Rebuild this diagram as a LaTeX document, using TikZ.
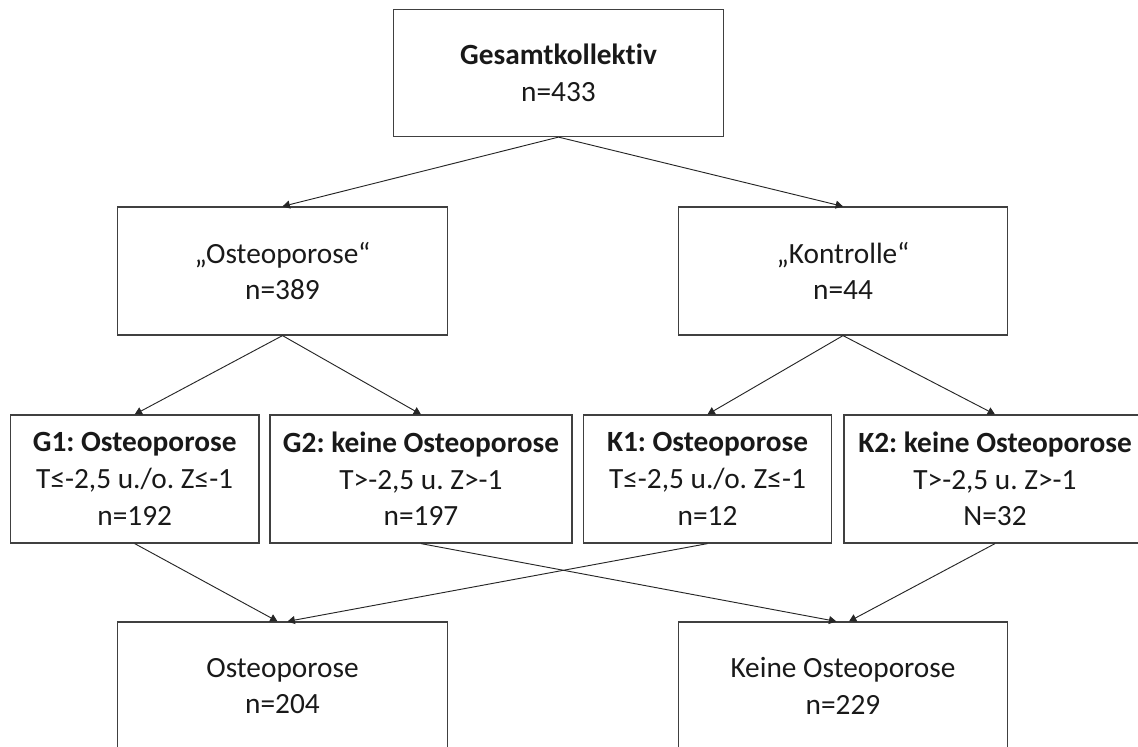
\documentclass[tikz,border=0pt]{standalone}
\usepackage{fontspec}
\setmainfont{Carlito}[Ligatures=NoCommon]
\usetikzlibrary{arrows.meta}

\tikzset{
    box/.style={draw=black!75, line width=0.9pt, rectangle, align=center, inner sep=0pt,
        minimum height=96pt, font=\fontsize{22}{27.5}\selectfont, text=black!90},
    bigbox/.style={box, minimum width=247pt},
    groupbox/.style={box, minimum width=186.5pt},
    widebox/.style={box, minimum width=226.5pt},
    link/.style={-{Triangle[width=6pt,length=5.5pt]}, draw=black!85, line width=0.7pt}
}

\begin{document}
\frenchspacing
\begin{tikzpicture}[x=0.75pt,y=-0.75pt]
        \clip (0,0) rectangle (1138,746);
        
        % Gesamtkollektiv
        \node[bigbox, minimum height=95.25pt] (total) at (558.5,73) {\textbf{Gesamtkollektiv}\\n=433};
        
        % Aufteilung
        \node[bigbox] (osteo) at (282.5,271) {„Osteoporose“\\n=389};
        \node[bigbox] (kontr) at (843,271) {„Kontrolle“\\n=44};
        
        % Gruppen
        \node[groupbox] (g1) at (134.7,479) {\textbf{G1: Osteoporose}\\T≤-2,5 u./o. Z≤-1\\n=192};
        \node[widebox] (g2) at (421,479) {\textbf{G2: keine Osteoporose}\\T>-2,5 u. Z>-1\\n=197};
        \node[groupbox] (k1) at (707.5,479) {\textbf{K1: Osteoporose}\\T≤-2,5 u./o. Z≤-1\\n=12};
        \node[widebox] (k2) at (995,479) {\textbf{K2: keine Osteoporose}\\T>-2,5 u. Z>-1\\N=32};
        
        % Ergebnis
        \node[bigbox] (res1) at (282.5,686) {Osteoporose\\n=204};
        \node[bigbox] (res2) at (843,686) {Keine Osteoporose\\n=229};
        
        \draw[link] (total.south) -- (osteo.north);
        \draw[link] (total.south) -- (kontr.north);
        \draw[link] (osteo.south) -- (g1.north);
        \draw[link] (osteo.south) -- (g2.north);
        \draw[link] (kontr.south) -- (k1.north);
        \draw[link] (kontr.south) -- (k2.north);
        
        \draw[link] (g1.south) -- ([xshift=-3.75pt]res1.north);
        \draw[link] (k1.south) -- ([xshift=3.75pt]res1.north);
        \draw[link] (g2.south) -- ([xshift=-5pt]res2.north);
        \draw[link] (k2.south) -- ([xshift=4.5pt]res2.north);
        
    \end{tikzpicture}
\end{document}
